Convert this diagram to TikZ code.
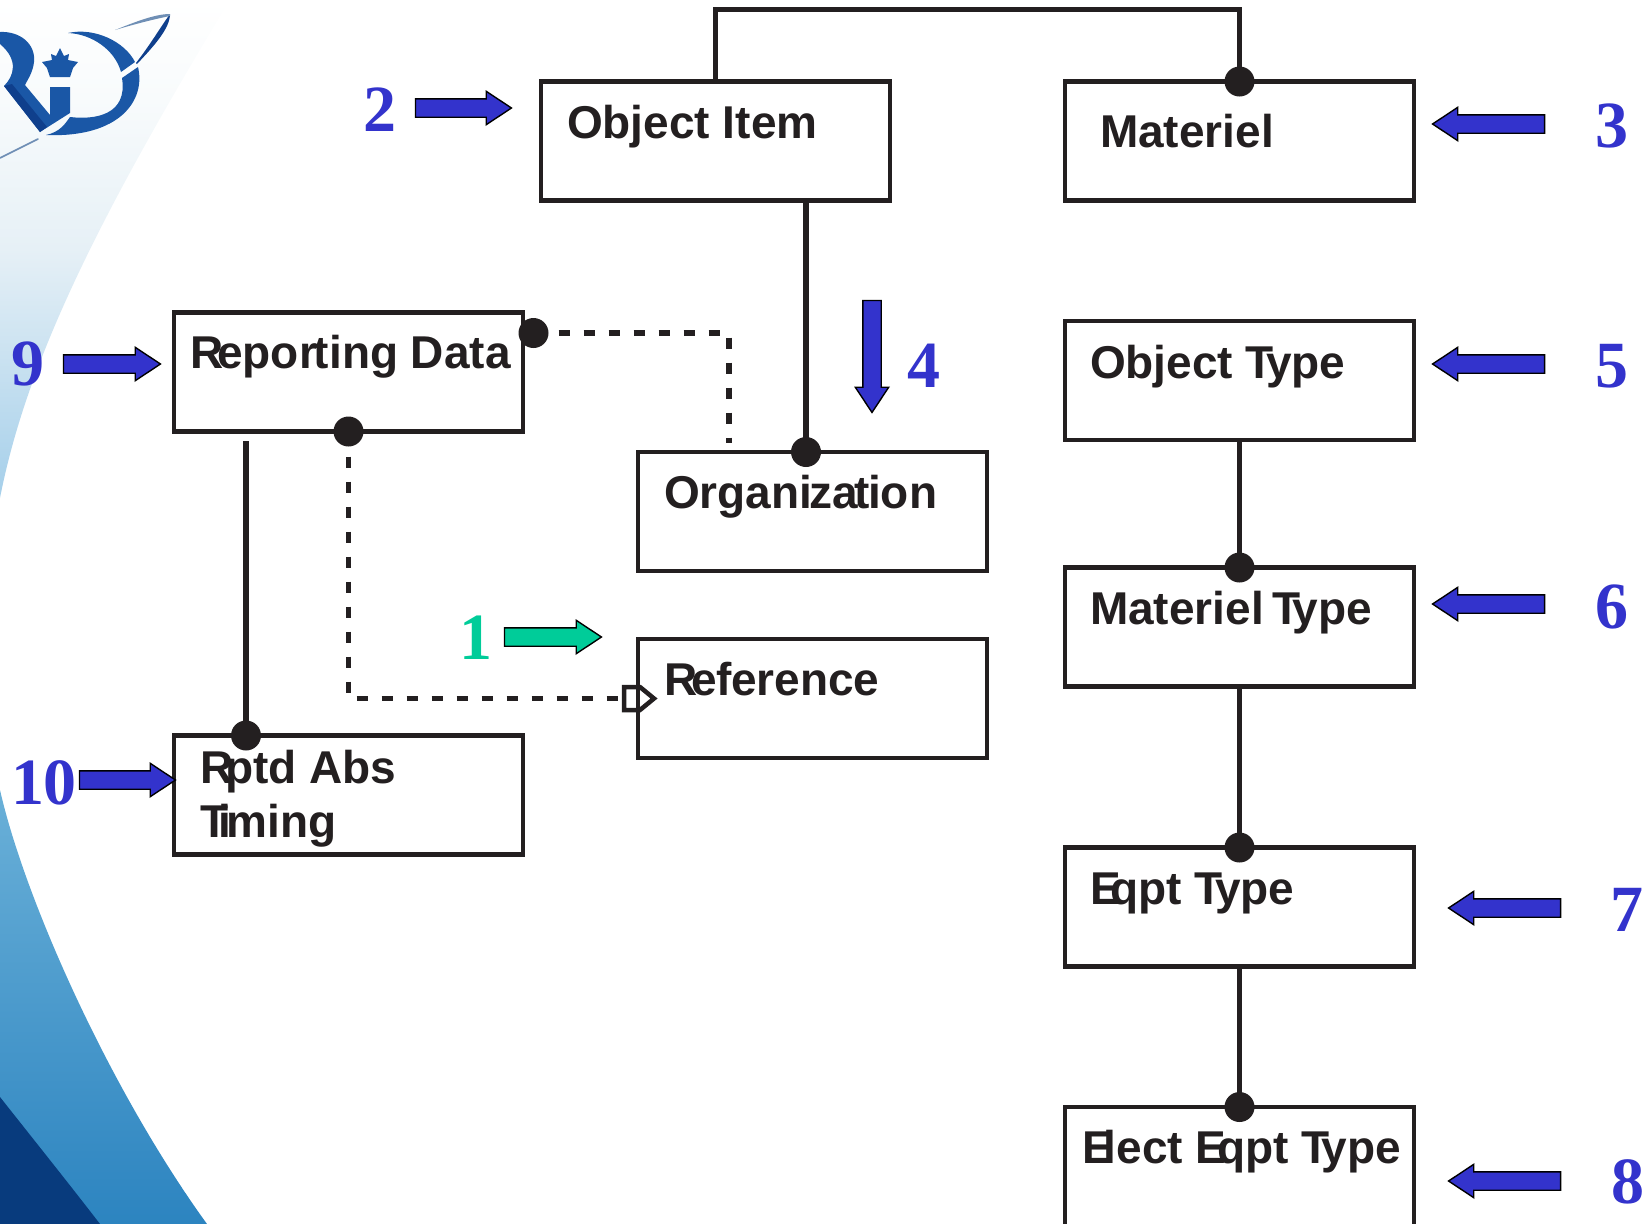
\documentclass[tikz,border=0pt]{standalone}
\usepackage{fontspec}
\setmainfont{Liberation Sans}
\newfontfamily\numfont{Liberation Serif}
\usetikzlibrary{shapes.arrows,calc}
\definecolor{ink}{HTML}{231F20}
\definecolor{arrowblue}{HTML}{3333CC}
\definecolor{arrowgreen}{HTML}{00CC99}
\definecolor{logoblue}{HTML}{1A57A6}
\definecolor{logodark}{HTML}{0F3F8C}
\definecolor{logoline}{HTML}{6F8FB5}
\definecolor{palemid}{HTML}{E6F0F6}
\definecolor{palelow}{HTML}{A5CFEA}
\definecolor{paletop}{HTML}{F8FBFC}
\definecolor{swooshtop}{HTML}{6AB0D8}
\definecolor{swooshlow}{HTML}{2C84C0}
\definecolor{navy}{HTML}{083B7D}
\pgfdeclareverticalshading{paleshade}{100bp}{color(0bp)=(palelow); color(25bp)=(palelow); color(50bp)=(palemid); color(65bp)=(paletop); color(75bp)=(white); color(100bp)=(white)}
\tikzset{
  entity/.style={draw=ink,line width=4.8pt,minimum width=349pt,minimum height=119pt,inner sep=0pt,outer sep=0pt,anchor=north west},
  boxtext/.style={anchor=base west,inner sep=0pt,outer sep=0pt,text=ink,font=\fontsize{46}{52}\selectfont\bfseries},
  numtext/.style={inner sep=0pt,outer sep=0pt,text=arrowblue,font=\numfont\fontsize{66}{70}\selectfont\bfseries},
  blockarrow/.style={shape=single arrow,draw=black,line width=1.4pt,fill=arrowblue,minimum width=32pt,single arrow head extend=7.5pt,single arrow tip angle=67,inner xsep=0pt,inner ysep=8.5pt,outer sep=0pt},
  dot/.style={circle,fill=ink,minimum size=30pt,inner sep=0pt,outer sep=0pt},
  solidlink/.style={draw=ink,line width=5.5pt},
  dashlink/.style={draw=ink,line width=5.5pt,dash pattern=on 11pt off 14pt},
}
\newcommand{\kk}[1]{\kern-#1pt\relax}
\begin{document}
\begin{tikzpicture}[x=1pt,y=-1pt]
\useasboundingbox (0,0) rectangle (1650,1224);
\clip (0,0) rectangle (1650,1224);
% background
\shade[shading=paleshade]
  (0,498) .. controls (25,370) and (90,230) .. (230,0) -- (0,0) -- cycle;
\shade[top color=swooshtop,bottom color=swooshlow]
  (0,790) .. controls (25,900) and (110,1090) .. (207,1224) -- (0,1224) -- cycle;
\fill[navy] (0,1097) .. controls (30,1135) and (70,1185) .. (100,1224) -- (0,1224) -- cycle;
% logo
\fill[logoblue] (0,32) .. controls (20,31) and (36,44) .. (34,62) .. controls (33,72) and (28,79) .. (25,85)
  -- (50,115) -- (50,87) -- (70,87) -- (70,113) -- (40,132) -- (4,86)
  .. controls (14,76) and (19,60) .. (0,44) -- cycle;
\fill[logodark] (4,86) -- (40,132) -- (47,127) -- (12,84) -- cycle;
\fill[logoblue] (68,33) .. controls (95,27) and (125,42) .. (135,62) -- (121,72) .. controls (115,50) and (92,34) .. (68,33) -- cycle;
\fill[logoblue] (122,78) -- (138,67) .. controls (146,100) and (120,138) .. (46,135)
  .. controls (60,132) and (65,124) .. (70,117) .. controls (95,120) and (128,115) .. (122,78) -- cycle;
\draw[logoline,line width=1.6pt,line cap=round] (0,158) -- (38,139);
\fill[logodark] (136,63) .. controls (150,45) and (160,28) .. (170,14) .. controls (170,28) and (155,45) .. (137,64) -- cycle;
\fill[logoline] (170,14) .. controls (155,14) and (135,22) .. (115,30) .. controls (135,24) and (155,19) .. (170,16) -- cycle;
\fill[logoblue] (60,48) -- (64,56) -- (69,54) -- (68,60) -- (78,62) -- (73,68) -- (70,77) -- (50,77) -- (47,68) -- (42,62) -- (52,60) -- (51,54) -- (56,56) -- cycle;
% boxes
\node[entity] (objitem) at (541,81.5) {};
\node[entity] (materiel) at (1065,81.5) {};
\node[entity] (repdata) at (174,312.5) {};
\node[entity] (org) at (638,452) {};
\node[entity] (ref) at (638,639) {};
\node[entity] (rptd) at (174,735.5) {};
\node[entity] (objtype) at (1065,321) {};
\node[entity] (mattype) at (1065,567.5) {};
\node[entity] (eqpt) at (1065,847.5) {};
\node[entity,minimum height=130pt] (elect) at (1065,1107) {};
% box labels
\node[boxtext] (tobj) at (567,138) {Object Item};
\node[boxtext] (tmat) at (1100,147) {Materiel};
\node[boxtext] (trep) at (190,368) {R\kk{6}epor\kk{3}ting Data};
\node[boxtext] (torg) at (664,508) {Organi\kk{3}za\kk{3}t\kk{2}ion};
\node[boxtext] (tref) at (664,695) {R\kk{6}ef\kk{1}erence};
\node[boxtext] (trpa) at (200,783) {R\kk{8}ptd Abs};
\node[boxtext] (trpb) at (200,837) {T\kk{10}i\kk{4}ming};
\node[boxtext] (toty) at (1090,378) {Object T\kk{8}ype};
\node[boxtext] (tmty) at (1090,624) {Materiel\kk{4} T\kk{8}ype};
\node[boxtext] (teqp) at (1090,904) {E\kk{10}qpt T\kk{8}ype};
\node[boxtext] (tele) at (1082,1163) {E\kk{9}lect E\kk{9}qpt T\kk{8}ype};
% dots
\node[dot] (dmat) at (materiel.north) {};
\node[dot] (dorg) at (806,452) {};
\node[dot] (drepr) at (533.5,333) {};
\node[dot] (drepb) at (repdata.south) {};
\node[dot] (drpt) at (246,735.5) {};
\node[dot] (dmty) at (mattype.north) {};
\node[dot] (deqp) at (eqpt.north) {};
\node[dot] (dele) at (elect.north) {};
\coordinate (topleft) at ($(objitem.north)+(0,-72)$);
\coordinate (repfree) at (246,441);
\coordinate (orgfree) at (729,443);
\coordinate (refend) at (624,698.5);
% solid links
\draw[solidlink] (objitem.north) -- (topleft) -| (dmat.center);
\draw[solidlink] (dorg.center |- objitem.south) -- (dorg.center);
\draw[solidlink] (repfree) -- (drpt.center);
\draw[solidlink] (objtype.south) -- (dmty.center);
\draw[solidlink] (mattype.south) -- (deqp.center);
\draw[solidlink] (eqpt.south) -- (dele.center);
% dashed links
\draw[dashlink] (drepr.center) -| (orgfree);
\draw[dashlink] (drepb.center) |- (refend);
% open marker
\draw[ink,line width=4.5pt,line join=miter] (624,687) -- (640,687) -- (654,698.5) -- (640,710) -- (624,710) -- cycle;
% block arrows
\node[blockarrow,minimum height=96pt] (a2) at (456.5,108) {};
\node[blockarrow,minimum height=112pt,rotate=180] (a3) at (1495.5,124) {};
\node[blockarrow,minimum height=112pt,rotate=-90] (a4) at (872,349.5) {};
\node[blockarrow,minimum height=112pt,rotate=180] (a5) at (1495.5,364) {};
\node[blockarrow,minimum height=112pt,rotate=180] (a6) at (1495.5,604) {};
\node[blockarrow,minimum height=112pt,rotate=180] (a7) at (1511.5,908) {};
\node[blockarrow,minimum height=112pt,rotate=180] (a8) at (1511.5,1181) {};
\node[blockarrow,minimum height=97pt] (a9) at (105,364) {};
\node[blockarrow,minimum height=96pt] (a10) at (120.5,780) {};
\node[blockarrow,minimum height=97pt,fill=arrowgreen] (a1) at (546,637) {};
% numbers
\node[numtext] (n1) at (476,638) {\textcolor{arrowgreen}{1}};
\node[numtext] (n2) at (380,110) {2};
\node[numtext] (n3) at (1612,126) {3};
\node[numtext] (n4) at (924,366) {4};
\node[numtext] (n5) at (1612,366) {5};
\node[numtext] (n6) at (1612,607) {6};
\node[numtext] (n7) at (1627,910) {7};
\node[numtext] (n8) at (1628,1182) {8};
\node[numtext] (n9) at (28,364) {9};
\node[numtext] (n10) at (44,783) {10};
\end{tikzpicture}
\end{document}
